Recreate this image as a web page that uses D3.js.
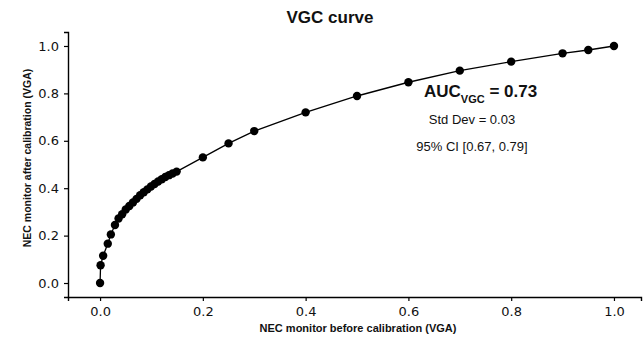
<!DOCTYPE html>
<html>
<head>
<meta charset="utf-8">
<script src="https://cdn.jsdelivr.net/npm/d3@7"></script>
<style>
  body { margin: 0; background: #fff; }
  svg { display: block; }
</style>
</head>
<body>
<svg id="chart" width="644" height="339"></svg>
<script>
// Data
const xValues = [0, 0.001, 0.006, 0.015, 0.021, 0.029, 0.036, 0.043, 0.05, 0.057, 0.064, 0.071, 0.078, 0.085, 0.092, 0.099, 0.106, 0.113, 0.12, 0.127, 0.134, 0.141, 0.149,
                 0.2, 0.25, 0.3, 0.4, 0.5, 0.6, 0.7, 0.8, 0.9, 0.95, 1.0];
const yValues = [0, 0.075, 0.115, 0.166, 0.205, 0.245, 0.272, 0.29, 0.31, 0.325, 0.34, 0.355, 0.37, 0.383, 0.395, 0.407, 0.418, 0.428, 0.438, 0.447, 0.455, 0.462, 0.47,
                 0.53, 0.589, 0.641, 0.72, 0.789, 0.847, 0.896, 0.934, 0.969, 0.983, 1.0];
const xTicks = [0, 0.2, 0.4, 0.6, 0.8, 1.0];
const yTicks = [0, 0.2, 0.4, 0.6, 0.8, 1.0];
const titleText = "VGC curve";
const xTitle = "NEC monitor before calibration (VGA)";
const yTitle = "NEC monitor after calibration (VGA)";
const aucLabel = ["AUC", "VGC", " = 0.73"];
const statLines = ["Std Dev = 0.03", "95% CI [0.67, 0.79]"];

const points = xValues.map((x, i) => ({ x, y: yValues[i] }));

const svg = d3.select("#chart");

const x = d3.scaleLinear().domain([-0.0624, 1.0526]).range([68, 641]);
const y = d3.scaleLinear().domain([-0.059, 1.059]).range([297, 32]);

const tickFont = "'DejaVu Sans', sans-serif";
const labFont = "'Liberation Sans', Arial, sans-serif";

// X axis
const xAxis = svg.append("g")
  .attr("transform", `translate(0,${y.range()[0]})`)
  .call(d3.axisBottom(x).tickValues(xTicks).tickFormat(d3.format(".1f")).tickSizeOuter(0).tickSize(4).tickPadding(6));
// Y axis
const yAxis = svg.append("g")
  .attr("transform", `translate(${x.range()[0]},0)`)
  .call(d3.axisLeft(y).tickValues(yTicks).tickFormat(d3.format(".1f")).tickSizeOuter(0).tickSize(4).tickPadding(5));

[xAxis, yAxis].forEach(g => {
  g.select(".domain").attr("stroke", "#000").attr("stroke-width", 1.4);
  g.selectAll(".tick line").attr("stroke", "#000").attr("stroke-width", 1.2);
  g.selectAll(".tick text").attr("fill", "#111").style("font-family", tickFont).style("font-size", "13px");
});

// Line
svg.append("path")
  .datum(points)
  .attr("fill", "none")
  .attr("stroke", "#000")
  .attr("stroke-width", 1.3)
  .attr("d", d3.line().x(d => x(d.x)).y(d => y(d.y)));

// Points
svg.append("g").selectAll("circle")
  .data(points)
  .join("circle")
  .attr("cx", d => x(d.x))
  .attr("cy", d => y(d.y))
  .attr("r", 4.2)
  .attr("fill", "#000");

// Title
svg.append("text")
  .attr("x", 330).attr("y", 23)
  .attr("text-anchor", "middle")
  .style("font-family", labFont).style("font-weight", "bold").style("font-size", "17px")
  .attr("fill", "#111")
  .text(titleText);

// Axis titles
svg.append("text")
  .attr("x", 358).attr("y", 332)
  .attr("text-anchor", "middle")
  .style("font-family", labFont).style("font-weight", "bold").style("font-size", "11px")
  .attr("fill", "#111")
  .text(xTitle);

svg.append("text")
  .attr("transform", "translate(31,158) rotate(-90)")
  .attr("text-anchor", "middle")
  .style("font-family", labFont).style("font-weight", "bold").style("font-size", "10.5px")
  .attr("fill", "#111")
  .text(yTitle);

// AUC annotation
const auc = svg.append("text")
  .attr("x", 424).attr("y", 97)
  .style("font-family", labFont).style("font-weight", "bold").style("font-size", "17px")
  .attr("fill", "#111");
auc.append("tspan").text(aucLabel[0]);
auc.append("tspan").attr("dy", 6).style("font-size", "11px").text(aucLabel[1]);
auc.append("tspan").attr("dy", -6).text(aucLabel[2]);

svg.append("g").selectAll("text")
  .data(statLines)
  .join("text")
  .attr("x", 472)
  .attr("y", (d, i) => 124 + i * 27)
  .attr("text-anchor", "middle")
  .style("font-family", labFont).style("font-size", "13px")
  .attr("fill", "#111")
  .text(d => d);
</script>
</body>
</html>
